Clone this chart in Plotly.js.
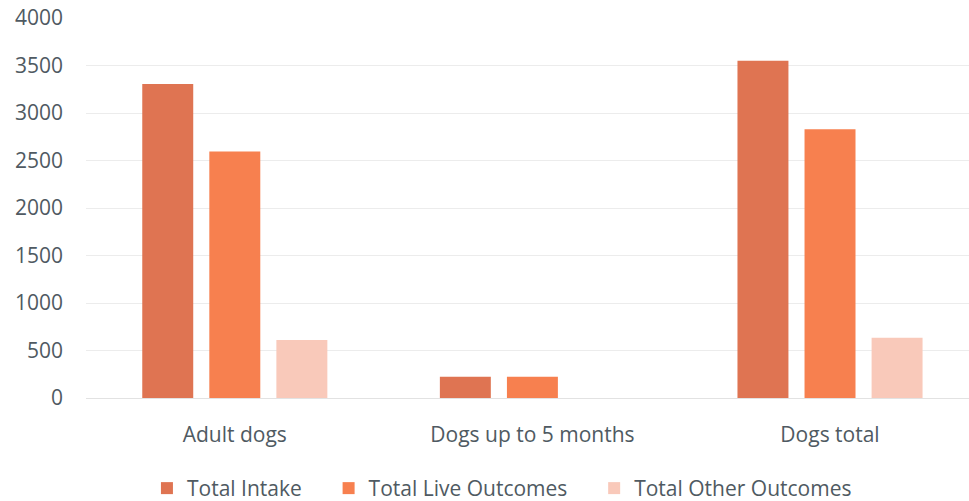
<!DOCTYPE html>
<html><head><meta charset="utf-8">
<script src="https://cdn.plot.ly/plotly-3.0.1.min.js"></script>
<style>html,body{margin:0;padding:0;background:#fff}#chart{width:969px;height:501px}</style>
</head><body><div id="chart"></div>
<script>
const categories = ["Adult dogs", "Dogs up to 5 months", "Dogs total"];
const seriesNames = ["Total Intake", "Total Live Outcomes", "Total Other Outcomes"];
const totalIntake = [3305, 225, 3550];
const totalLive = [2595, 225, 2830];
const totalOther = [610, 0, 635];
const yTicks = [0, 500, 1000, 1500, 2000, 2500, 3000, 3500, 4000];

const colors = ["#df7452", "#f7804f", "#f9c9ba"];
const vals = [totalIntake, totalLive, totalOther];
const font = "'Open Sans', Lato, sans-serif";
const pad = "\u00a0\u00a0\u00a0\u00a0";

const data = vals.map((v, i) => ({
  type: "bar", x: categories, y: v, name: seriesNames[i] + (i < 2 ? pad : ""),
  marker: {color: colors[i]}, hoverinfo: "none"
}));

const layout = {
  width: 969, height: 501,
  margin: {l: 86, r: 0, t: 18, b: 103},
  paper_bgcolor: "#fff", plot_bgcolor: "#fff",
  font: {family: font, color: "#4f5a62", size: 21},
  barmode: "group", bargap: 0.324, bargroupgap: 0.24,
  xaxis: {range: [-0.5, 2.467], showgrid: false, zeroline: false, showline: false,
          ticks: "", ticklabelstandoff: 22, tickfont: {size: 21, color: "#4f5a62"}},
  yaxis: {range: [0, 4000], tickvals: yTicks, ticktext: yTicks.map(String),
          showgrid: true, gridcolor: "#ececec", gridwidth: 1,
          zeroline: true, zerolinecolor: "#e2e2e2", zerolinewidth: 1,
          showline: false, ticks: "", ticklabelstandoff: 22,
          tickfont: {size: 21, color: "#4f5a62"}},
  showlegend: true,
  legend: {orientation: "h", xref: "container", yref: "container",
           x: 0.518, xanchor: "center", y: 0.025, yanchor: "middle",
           font: {size: 21, color: "#4f5a62"}, itemwidth: 30, traceorder: "normal"}
};

Plotly.newPlot("chart", data, layout, {displayModeBar: false, staticPlot: true});
</script></body></html>
